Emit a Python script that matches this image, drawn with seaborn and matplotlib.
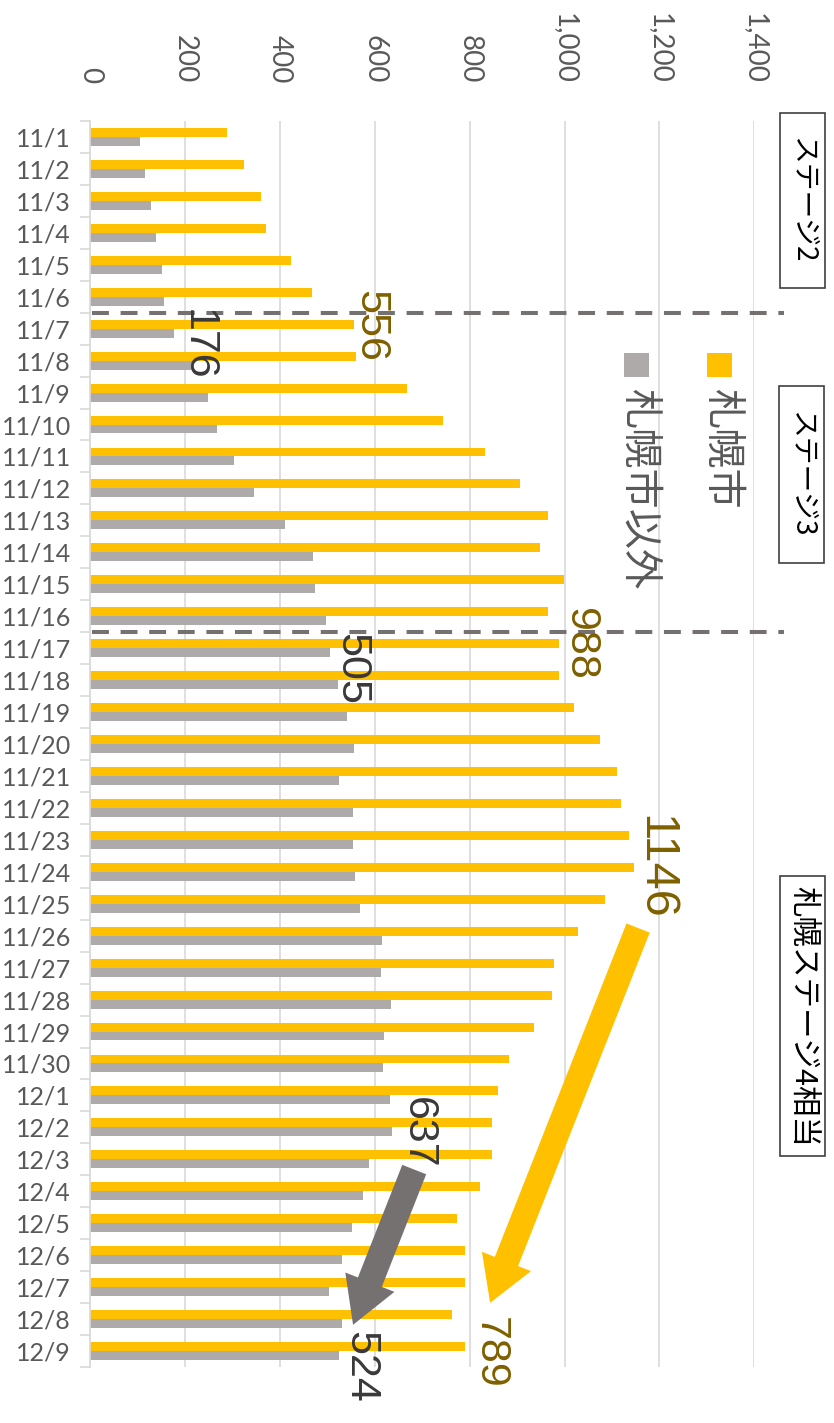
import numpy as np
import pandas as pd
import matplotlib
matplotlib.use("Agg")
import matplotlib.pyplot as plt
from matplotlib.patches import FancyArrowPatch, Rectangle, ArrowStyle
from matplotlib.ticker import FuncFormatter
import seaborn as sns

# ---------------- data ----------------
dates = ["11/1", "11/2", "11/3", "11/4", "11/5", "11/6", "11/7", "11/8", "11/9", "11/10",
         "11/11", "11/12", "11/13", "11/14", "11/15", "11/16", "11/17", "11/18", "11/19", "11/20",
         "11/21", "11/22", "11/23", "11/24", "11/25", "11/26", "11/27", "11/28", "11/29", "11/30",
         "12/1", "12/2", "12/3", "12/4", "12/5", "12/6", "12/7", "12/8", "12/9"]
sapporo = [289, 325, 359, 371, 424, 467, 556, 560, 668, 744,
           833, 905, 965, 948, 999, 965, 988, 988, 1020, 1075,
           1111, 1118, 1135, 1146, 1086, 1029, 978, 973, 935, 882,
           859, 848, 846, 821, 774, 791, 789, 762, 789]
others = [104, 115, 128, 138, 151, 155, 176, 215, 248, 268,
          304, 346, 410, 469, 473, 496, 505, 522, 541, 556,
          524, 554, 554, 558, 568, 615, 613, 634, 619, 617,
          632, 637, 588, 575, 552, 530, 503, 530, 524]
series_names = ["札幌市", "札幌市以外"]
stage_labels = ["ステージ2", "ステージ3", "札幌ステージ4相当"]
x_ticks = [0, 200, 400, 600, 800, 1000, 1200, 1400]

ORANGE = "#FFC000"
GRAY = "#AEAAAA"
DARK_GOLD = "#7F6000"
DARK_GRAY = "#3A3838"
ARROW_GRAY = "#767171"

df = pd.DataFrame({
    "date": dates * 2,
    "value": sapporo + others,
    "series": [series_names[0]] * len(dates) + [series_names[1]] * len(dates),
})

# ---------------- figure ----------------
sns.set_theme(style="white")
plt.rcParams["font.family"] = ["Lato", "Noto Sans CJK JP", "DejaVu Sans"]

W, H = 834, 1423
fig = plt.figure(figsize=(W / 100, H / 100), dpi=100)
ax = fig.add_axes([90.3 / W, 1 - 1367 / H, (754.3 - 90.3) / W, (1367 - 121) / H])

sns.barplot(data=df, x="value", y="date", hue="series", hue_order=series_names,
            orient="h", palette=[ORANGE, GRAY], saturation=1, width=0.56, gap=0,
            linewidth=0, errorbar=None, legend=False, ax=ax, zorder=2)

n = len(dates)
ax.set_xlim(0, 1400)
ax.set_ylim(n - 0.5, -0.5)
ax.set_xlabel("")
ax.set_ylabel("")

# x axis on top, rotated labels
ax.xaxis.tick_top()
ax.set_xticks(x_ticks)
ax.xaxis.set_major_formatter(FuncFormatter(lambda v, p: f"{v:,.0f}"))
ax.tick_params(axis="x", which="both", length=0, pad=27, labelsize=20,
               labelcolor="#595959", labelrotation=-90)
for lbl in ax.get_xticklabels():
    lbl.set_va("bottom")
    lbl.set_ha("center")

# y axis categories
ax.tick_params(axis="y", which="major", length=0, pad=14, labelsize=18, labelcolor="#595959")
ax.set_yticks(np.arange(-0.5, n, 1), minor=True)
ax.tick_params(axis="y", which="minor", length=7, width=1.2, color="#d9d9d9", left=True)

ax.grid(axis="x", color="#d9d9d9", linewidth=1.2, zorder=0)
ax.grid(axis="y", visible=False)
ax.set_axisbelow(True)
for s in ["top", "right", "bottom"]:
    ax.spines[s].set_visible(False)
ax.spines["left"].set_color("#d9d9d9")
ax.spines["left"].set_linewidth(1.2)

# dashed stage separators
for yb in [5.5, 15.5]:
    ax.axhline(yb, xmin=0.003, xmax=1.045, color=ARROW_GRAY, lw=2.9,
               linestyle=(0, (4.2, 2.9)), clip_on=False, zorder=3)

# arrows
def add_arrow(p0, p1, color, hl, hw, tw):
    st = ArrowStyle("Simple", head_length=hl, head_width=hw, tail_width=tw)
    a = FancyArrowPatch(p0, p1, arrowstyle=st, mutation_scale=10, shrinkA=0, shrinkB=0,
                        color=color, lw=0, transform=ax.transData, clip_on=False, zorder=4)
    ax.add_patch(a)

add_arrow((1155, 24.76), (843, 36.49), ORANGE, 3.2, 3.8, 1.8)
add_arrow((683, 32.32), (554, 37.18), ARROW_GRAY, 3.3, 3.8, 1.85)

# value annotations
ann_font = ["Liberation Sans", "DejaVu Sans"]
def ann(x, y, txt, color, size=31):
    ax.text(x, y, txt, rotation=-90, ha="center", va="center", color=color,
            fontsize=size, family=ann_font, zorder=5, clip_on=False)

ann(590, 5.92, f"{sapporo[6]}", DARK_GOLD)
ann(226, 6.51, f"{others[6]}", DARK_GRAY)
ann(1033, 15.87, f"{sapporo[16]}", DARK_GOLD)
ann(550, 16.65, f"{others[16]}", DARK_GRAY)
ann(1190, 22.85, f"{sapporo[23]}", DARK_GOLD, size=35)
ann(843, 38.06, f"{sapporo[38]}", DARK_GOLD)
ann(691, 31.17, f"{others[31]}", DARK_GRAY)
ann(569, 38.5, f"{others[38]}", DARK_GRAY)

# helpers in pixel coordinates (origin top-left)
def fx(x):
    return x / W

def fy(y):
    return 1 - y / H

cjk = ["Noto Sans CJK JP", "DejaVu Sans"]

# legend (manual, rotated)
for (cx, col, label) in [(719.5, ORANGE, series_names[0]), (636.5, GRAY, series_names[1])]:
    fig.add_artist(Rectangle((fx(cx - 12.5), fy(377)), 25 / W, 24 / H,
                             transform=fig.transFigure, facecolor=col, edgecolor="none"))
    fig.text(fx(cx + 2), fy(388), label, rotation=-90, ha="center", va="top",
             fontsize=29, color="#595959", family=cjk)

# stage boxes
boxes = [(780, 825, 113, 288, 20), (779, 824, 386, 563, 20), (780, 825, 876, 1156, 22)]
for (x0, x1, y0, y1, fs), lab in zip(boxes, stage_labels):
    fig.add_artist(Rectangle((fx(x0), fy(y1)), (x1 - x0) / W, (y1 - y0) / H,
                             transform=fig.transFigure, facecolor="white",
                             edgecolor="#404040", lw=1.2))
    fig.text(fx((x0 + x1) / 2), fy((y0 + y1) / 2), lab, rotation=-90, ha="center",
             va="center", fontsize=fs, color="black", family=cjk)

fig.savefig("out.png", dpi=100)
